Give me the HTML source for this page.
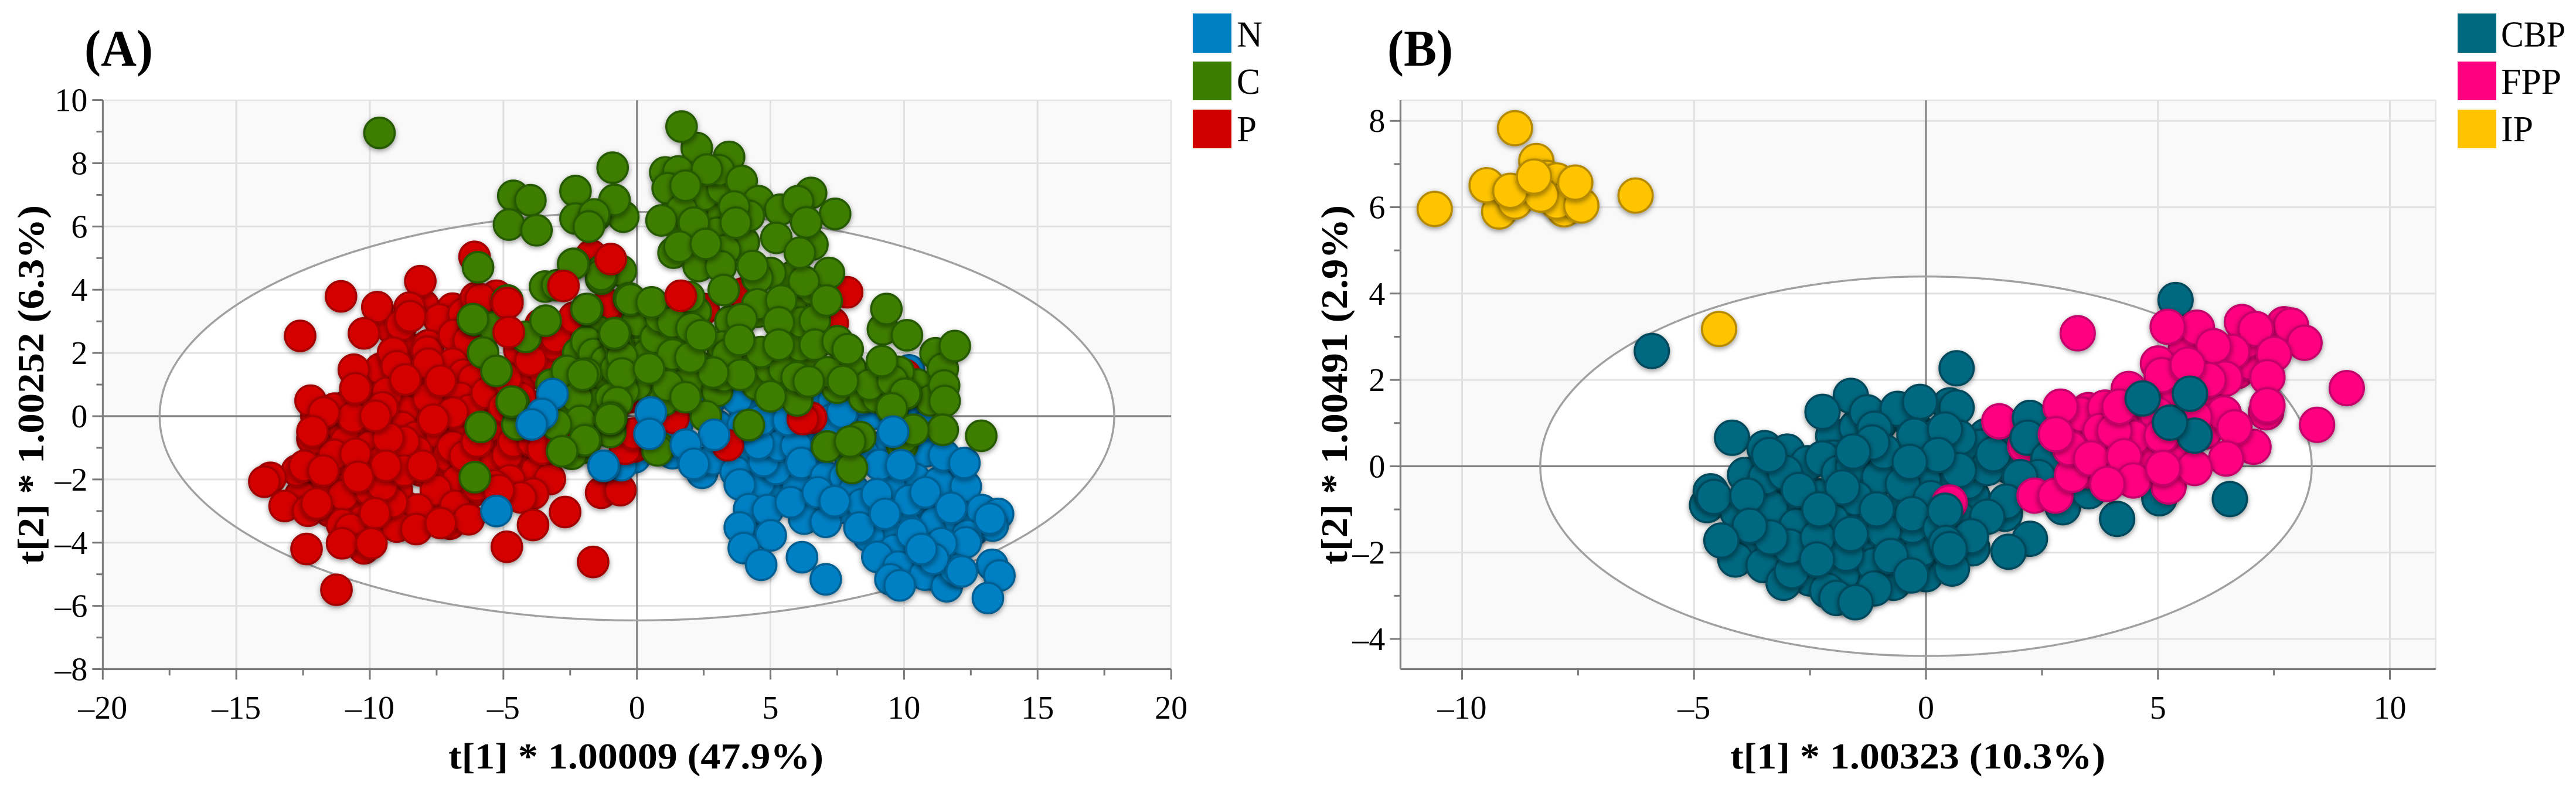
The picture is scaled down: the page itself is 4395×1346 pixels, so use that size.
<!DOCTYPE html>
<html lang="en">
<head>
<meta charset="utf-8">
<title>Score scatter plots (A) and (B)</title>
<style>
html,body{margin:0;padding:0;background:#fff;}
svg{display:block;}
text{font-family:"Liberation Serif",serif;fill:#000;}
</style>
</head>
<body>
<svg id="figure" xmlns="http://www.w3.org/2000/svg" width="4395" height="1346" viewBox="0 0 4395 1346">
  <defs>
    <filter id="marker-shadow" x="-40%" y="-40%" width="180%" height="190%">
      <feDropShadow dx="0" dy="3" stdDeviation="4.5" flood-color="#000" flood-opacity="0.42"/>
    </filter>
  </defs>
  <rect x="0" y="0" width="4395" height="1346" fill="#fff"/>
  <g id="panel-a"></g>
  <g id="panel-b"></g>

  <text x="144" y="112" font-size="88" font-weight="bold" textLength="117" lengthAdjust="spacingAndGlyphs">(A)</text>
  <text x="2367" y="112" font-size="88" font-weight="bold" textLength="112" lengthAdjust="spacingAndGlyphs">(B)</text>

  <text x="765" y="1311" font-size="62" font-weight="bold" textLength="640" lengthAdjust="spacingAndGlyphs">t[1] * 1.00009 (47.9%)</text>
  <text transform="translate(74 963) rotate(-90)" font-size="64" font-weight="bold" textLength="613" lengthAdjust="spacingAndGlyphs">t[2] * 1.00252 (6.3%)</text>
  <text x="2952" y="1311" font-size="62" font-weight="bold" textLength="640" lengthAdjust="spacingAndGlyphs">t[1] * 1.00323 (10.3%)</text>
  <text transform="translate(2298 963) rotate(-90)" font-size="64" font-weight="bold" textLength="613" lengthAdjust="spacingAndGlyphs">t[2] * 1.00491 (2.9%)</text>

  <g>
    <g>
      <rect x="2035" y="23" width="66" height="67" fill="#0080c4"/>
      <text x="2110" y="79.5" font-size="62" textLength="44" lengthAdjust="spacingAndGlyphs">N</text>
    </g>
    <g>
      <rect x="2035" y="105" width="66" height="66" fill="#3c7d00"/>
      <text x="2110" y="160" font-size="62" textLength="40" lengthAdjust="spacingAndGlyphs">C</text>
    </g>
    <g>
      <rect x="2035" y="187" width="66" height="66" fill="#d10000"/>
      <text x="2110" y="241" font-size="62" textLength="34" lengthAdjust="spacingAndGlyphs">P</text>
    </g>
  </g>
  <g>
    <g>
      <rect x="4193" y="23" width="66" height="67" fill="#006880"/>
      <text x="4267" y="79.5" font-size="62" textLength="110" lengthAdjust="spacingAndGlyphs">CBP</text>
    </g>
    <g>
      <rect x="4193" y="105" width="66" height="66" fill="#ff0080"/>
      <text x="4267" y="160" font-size="62" textLength="103" lengthAdjust="spacingAndGlyphs">FPP</text>
    </g>
    <g>
      <rect x="4193" y="187" width="66" height="66" fill="#ffc400"/>
      <text x="4267" y="241" font-size="62" textLength="55" lengthAdjust="spacingAndGlyphs">IP</text>
    </g>
  </g>
</svg>
<script>
// ---------- Panel A data ----------
const aXTicks = [-20,-15,-10,-5,0,5,10,15,20];
const aXMinor = [-17.5,-12.5,-7.5,-2.5,2.5,7.5,12.5,17.5];
const aYTicks = [-8,-6,-4,-2,0,2,4,6,8,10];
const aYMinor = [-7,-5,-3,-1,1,3,5,7,9];
const aEllipse = [17.87,6.46];

const pInner = [[-11.5,-0.5],[-10.9,0.3],[-10.0,-0.3],[-11.0,-1.6],[-10.2,-1.3],[-8.9,-1.1],[-9.0,0.9],[-10.2,1.0],[-9.6,1.5],[-8.2,0.9],[-7.0,0.9],[-8.4,2.1],[-7.2,2.7],[-6.0,1.9],[-5.0,0.6],[-5.2,-0.3],[-6.0,-0.9],[-7.5,-1.0],[-8.0,-0.2],[-9.2,-0.2],[-10.9,-2.3],[-11.7,-2.2],[-12.6,-2.5],[-11.5,-3.0],[-10.2,-2.7],[-9.4,-3.3],[-8.6,-2.9],[-7.6,-2.9],[-7.0,-3.4],[-6.2,-2.4],[-5.0,-1.7],[-4.4,-1.6],[-3.4,-0.4],[-3.2,-1.2],[-4.9,-0.9],[-3.9,0.3],[-2.6,0.2],[-2.0,0.9],[-3.0,1.0],[-1.8,-0.4],[-11.9,-1.0],[-12.0,0.0],[-8.6,0.1],[-7.0,-0.2],[-10.5,-3.0],[-4.4,2.1],[-3.6,2.9],[-2.6,2.2],[-1.4,2.6],[-8.0,3.5],[-6.9,3.4],[-9.2,2.8]];

const pBase = [[-6.08,5.04],[-11.08,3.79],[-8.11,4.27],[-12.61,2.54],[-9.72,3.45],[-8.51,3.43],[-10.22,2.62],[-8.81,2.89],[-7.4,3.06],[-6.49,3.24],[-6.03,3.74],[-5.26,3.81],[-5.85,3.7],[-9.13,2.01],[-7.81,2.24],[-7.85,2.04],[-6.85,2.57],[-6.3,2.39],[-10.6,1.47],[-8.99,1.58],[-6.9,1.66],[-6.49,1.31],[-6.12,1.16],[-7.81,1.66],[-12.22,0.49],[-11.31,0.24],[-9.81,0.51],[-8.72,0.2],[-7.53,0.43],[-5.62,0.2],[-3.98,1.35],[-3.48,1.43],[-3.16,2.27],[-3.03,2.51],[-2.35,3.12],[-1.71,5.08],[-0.84,3.2],[-1.07,3.51],[-12.15,-0.72],[-10.9,-0.8],[-9.99,-0.95],[-8.81,-0.34],[-8.26,-0.65],[-7.35,-0.57],[-6.53,-0.26],[-5.53,-0.34],[-11.35,-1.22],[-12.72,-1.72],[-13.72,-1.95],[-13.95,-2.07],[-9.31,-1.95],[-8.08,-1.72],[-7.26,-1.8],[-7.08,-1.26],[-8.26,-1.11],[-6.71,-2.03],[-5.53,-1.57],[-4.85,-1.22],[-3.76,-1.72],[-3.26,-1.99],[-4.76,-2.03],[-10.99,-2.49],[-13.19,-2.84],[-12.31,-2.99],[-7.53,-2.34],[-8.99,-2.34],[-9.99,-2.34],[-8.21,-2.95],[-10.26,-3.3],[-6.8,-2.84],[-6.3,-3.26],[-8.99,-3.49],[-8.26,-3.57],[-11.04,-3.42],[-10.72,-3.57],[-10.22,-4.18],[-11.04,-4.02],[-12.37,-4.2],[-5.35,-2.19],[-3.89,-2.45],[-4.35,-2.57],[-3.89,-3.44],[-2.69,-3.03],[-4.87,-4.13],[-1.64,-4.61],[-11.25,-5.49],[-1.34,-2.42],[-0.62,-2.34],[-6.9,-0.96],[-6.44,-1.26],[-5.99,-2.19],[-9.53,-1.42],[-12.45,-1.57],[-8.72,-0.8],[-5.99,-0.8],[-4.62,-0.8],[-3.89,-0.8],[-4.35,-0.19],[-3.53,-1.03],[-9.17,-2.72],[-9.53,-2.19],[-5.17,-2.34],[-7.81,0.58],[-6.62,0.58],[-6.26,0.2],[-6.9,0.12],[-5.62,0.74],[-9.35,0.74],[-9.53,0.28],[-10.63,-0.03],[-11.72,0.12],[-4.35,0.58],[-4.98,0.28],[-4.89,1.2],[-7.35,1.12],[-10.53,-1.19],[-8.72,-1.72],[-2.8,-0.8],[-12.15,-0.48],[-8.49,3.16],[-9.31,-0.69],[-10.54,0.88],[-8.67,1.16],[-9.79,0.01],[-7.62,-0.11],[-3.98,1.77],[-8.03,-1.57],[-9.4,-1.57],[-11.74,-1.72],[-10.44,-1.92],[-11.99,-2.76],[-9.81,-3.07],[-9.94,-4.02],[-7.35,-3.38]];

const nInner = [[4.0,-1.0],[5.0,-2.5],[6.5,-0.5],[7.0,-1.0],[8.0,-1.5],[9.0,-1.0],[9.5,-3.0],[10.0,-1.5],[11.0,-1.0],[11.0,-3.0],[12.0,-3.0],[6.8,-2.8],[7.6,-2.9],[8.7,-3.1],[10.5,-3.0],[11.5,-3.5],[10.0,-4.6],[11.0,-5.0],[10.0,0.0],[6.0,-2.0],[5.0,-0.3],[4.0,0.3],[2.0,0.2],[1.5,-0.3],[3.0,-0.3],[6.0,0.2],[9.0,0.3],[9.9,-2.6],[11.8,-2.2],[12.6,-3.6],[11.9,-4.4],[10.5,-3.9],[9.5,-4.0],[8.1,-0.6],[7.0,-0.1],[4.6,-2.1],[5.5,-1.3],[4.5,-3.3]];

const nBase = [[10.19,1.45],[0.07,0.8],[2.79,0.56],[2.44,-1.79],[2.84,-1.36],[3.7,-1.76],[3.85,-2.16],[4.2,-2.94],[4.9,-2.97],[3.85,-3.52],[5.01,-3.77],[4.0,-4.17],[4.65,-4.7],[6.18,-4.46],[7.07,-5.16],[6.26,-3.24],[7.07,-3.34],[6.01,-2.22],[5.21,-1.67],[4.75,-1.42],[5.31,-0.93],[4.55,-0.87],[5.96,-0.93],[6.16,-1.48],[7.07,-1.92],[7.78,-1.92],[8.13,-2.35],[8.43,-2.78],[10.8,-1.11],[10.4,-1.98],[11.3,-2.1],[9.49,-2.22],[11.5,-1.24],[12.31,-2.22],[11.15,-3.34],[12.06,-3.28],[12.91,-2.97],[13.52,-3.09],[13.32,-3.46],[10.04,-3.4],[9.34,-3.58],[8.68,-3.8],[8.33,-3.52],[12.36,-3.77],[12.31,-3.99],[9.64,-4.23],[9.0,-4.45],[10.6,-4.57],[9.79,-4.76],[10.78,-5.01],[9.49,-5.16],[9.84,-5.35],[11.6,-5.38],[11.91,-4.85],[13.3,-4.7],[13.57,-5.04],[13.14,-5.75],[8.78,0.06],[10.9,-0.25],[10.8,0.62],[9.59,0.93],[3.75,0.56],[5.71,0.37],[6.27,0.56],[4.65,-0.12],[5.46,0.93],[4.45,1.2],[7.37,0.5],[8.28,0.5],[3.95,-0.31],[5.66,-0.12],[7.27,-0.12],[8.48,-1.17],[9.09,-1.54],[8.98,-2.47],[10.2,-2.66],[5.76,-2.72],[6.77,-2.41],[9.29,-3.09],[11.4,-4.02],[11.1,-4.51],[10.3,-3.71],[-0.08,-1.3],[1.33,-1.17],[-0.59,-1.55],[-5.26,-3.0],[-1.3,0.97],[-1.03,-0.49],[-1.23,-1.57],[7.4,-2.69],[10.8,-2.41],[11.76,-2.9],[12.26,-1.48],[13.22,-3.24],[10.65,-4.2],[12.16,-4.91],[7.68,0.12]];

const pMid = [[6.52,-0.05],[6.21,-0.09],[10.04,1.3],[1.37,-0.05],[-0.11,-0.96],[-0.29,0.6],[3.4,-0.92],[7.33,2.94],[3.97,3.88],[7.87,3.92],[2.49,3.39],[-0.82,3.32],[-1.09,3.54],[0.12,2.86],[-0.62,0.5],[-0.44,-1.03],[-0.11,-0.55]];

const cInner = [[0.0,1.0],[1.0,1.3],[1.5,2.5],[2.5,1.5],[3.0,0.8],[3.5,3.0],[4.5,1.0],[5.0,1.5],[5.5,1.5],[6.5,1.7],[7.5,0.9],[8.5,0.6],[9.0,0.6],[10.5,1.0],[11.0,0.5],[0.0,3.0],[-1.5,1.0],[-0.5,0.8],[-1.5,2.7],[-2.5,0.8],[-1.0,-0.5],[-2.0,-1.0],[1.0,0.5],[2.2,3.3],[4.5,3.3],[5.8,3.4],[6.6,4.0],[2.5,6.6],[3.2,6.4],[1.8,5.8],[3.0,5.8],[4.0,5.5],[5.8,4.4],[1.5,6.9],[2.5,7.0],[3.2,7.2],[-3.2,1.0],[-3.0,0.2],[1.9,1.1],[4.0,1.9],[3.2,2.2],[0.0,2.0],[8.0,1.5],[9.8,1.4],[6.0,0.5],[-1.2,1.9],[-2.2,2.0]];

const cBase = [[1.06,7.71],[2.24,8.48],[3.45,8.2],[1.55,7.74],[3.07,7.78],[3.92,7.44],[1.15,7.21],[-0.51,6.31],[-1.54,6.34],[4.55,6.8],[6.52,7.06],[5.36,6.53],[1.68,6.53],[4.19,6.34],[0.92,6.19],[2.13,6.12],[6.57,5.43],[1.37,5.17],[3.3,5.25],[2.31,4.75],[3.14,4.74],[5.0,4.53],[4.51,4.38],[7.19,4.53],[6.25,4.26],[3.25,3.99],[4.51,3.54],[1.95,3.77],[-1.32,4.6],[-0.6,4.6],[-4.85,3.66],[-6.08,3.04],[-5.35,2.81],[-4.17,2.51],[-3.44,4.1],[-1.34,4.35],[-2.99,4.14],[-1.34,4.47],[-0.3,3.73],[-0.24,3.69],[-0.62,2.12],[-1.89,2.35],[-1.62,1.97],[-1.16,1.74],[-2.62,1.43],[-0.8,1.5],[-1.71,0.43],[-2.25,0.58],[-0.98,0.58],[-4.48,-0.26],[-2.12,-0.15],[-2.44,-1.19],[-1.9,1.35],[0.38,1.95],[-0.74,2.33],[-0.56,1.88],[-0.56,1.35],[0.7,2.48],[0.88,3.13],[1.33,2.97],[2.04,2.78],[1.33,1.95],[3.25,1.27],[3.39,1.95],[1.15,0.97],[4.64,2.03],[6.12,2.22],[6.16,2.97],[6.66,3.03],[6.66,2.26],[7.51,2.37],[5.98,1.23],[7.15,1.39],[8.72,1.0],[9.57,1.12],[9.21,2.75],[11.18,1.99],[11.45,1.5],[2.58,0.0],[0.83,-1.0],[9.57,0.25],[8.36,-0.66],[7.12,-0.96],[10.1,-0.47],[9.93,-0.92],[0.77,-1.08],[11.5,0.97],[-0.74,0.44],[-0.96,-0.05],[-1.9,-0.77]];

const cTop = [[1.67,9.16],[-0.91,7.86],[2.62,7.8],[1.82,7.29],[-0.84,6.84],[6.03,6.8],[7.42,6.4],[3.64,6.63],[3.7,6.12],[6.34,6.13],[5.22,5.64],[6.1,5.17],[1.59,5.36],[2.58,5.45],[4.33,4.75],[7.1,3.66],[5.4,3.66],[3.92,3.07],[5.31,2.97],[9.34,3.39],[10.11,2.56],[7.89,2.12],[5.31,2.26],[3.83,2.41],[11.9,2.22],[9.17,1.74],[3.88,1.31],[2.85,1.38],[2.0,1.86],[2.4,2.56],[0.45,1.51],[0.55,3.6],[-0.82,2.63],[-1.86,3.39],[1.82,0.6],[5.0,0.63],[6.43,1.1],[7.71,1.11],[10.08,0.7],[11.52,0.48],[11.45,-0.43],[4.19,-0.28],[8.05,-1.64],[7.98,-0.8],[-0.96,-0.05],[-9.64,8.96],[-4.63,6.97],[-3.99,6.83],[-4.79,6.06],[-3.76,5.88],[-2.3,7.12],[-2.3,6.25],[-1.6,6.38],[-1.8,6.0],[-2.37,4.82],[-5.95,4.71],[-2.39,4.81],[-3.42,3.02],[-6.14,3.07],[-5.76,2.01],[-5.26,1.43],[-4.62,0.43],[-4.69,0.46],[-5.85,-0.34],[-6.07,-1.93],[-1.89,3.39],[-0.84,2.62],[-2.03,1.31],[-3.03,-0.26],[-1.0,-0.09],[-1.95,-0.76],[-2.8,-1.11],[12.89,-0.62],[9.99,-0.68],[10.04,0.71],[9.54,0.25],[10.35,-0.43]];

const pTop = [[-4.85,3.58],[-4.8,2.66],[-2.75,4.12],[-0.98,4.97],[1.64,3.81]];

const nTop = [[0.52,0.12],[0.47,-0.56],[2.89,-0.59],[1.83,-0.9],[2.13,-1.51],[-3.16,0.7],[-3.55,0.07],[-3.94,-0.26],[-1.25,-1.57],[9.59,-0.49],[9.89,-1.55]];

// ---------- Panel B data ----------
const bXTicks = [-10,-5,0,5,10];
const bXMinor = [-7.5,-2.5,2.5,7.5];
const bYTicks = [-4,-2,0,2,4,6,8];
const bYMinor = [-3,-1,1,3,5,7];
const bEllipse = [8.315,4.395];

const cbpInner = [[-3.0,-0.5],[-2.3,-0.7],[-1.2,-0.5],[0.0,-0.8],[0.5,-0.2],[1.0,-0.7],[1.3,0.7],[-0.5,0.2],[-1.0,1.0],[-0.3,1.0],[-2.0,0.7],[-1.8,-1.1],[-2.7,-0.9],[-3.5,-1.0],[-3.2,-2.1],[-2.5,-2.6],[-1.8,-2.5],[-0.7,-2.7],[0.0,-2.5],[-0.5,-1.7],[0.3,-1.0],[1.0,-1.9],[1.7,-1.1],[2.5,0.5],[3.0,-0.3],[-1.3,-1.9],[-0.3,-0.4],[-2.0,0.2],[-1.9,-1.7],[-3.9,-0.2],[-2.6,-1.6],[-1.2,-1.3],[-2.9,0.0],[0.2,0.7],[0.9,0.1],[1.8,0.0],[-1.5,0.9],[-3.9,-1.9],[-0.2,-2.1]];

const cbpBase = [[-5.91,2.67],[-4.18,0.66],[0.66,2.27],[5.38,3.85],[-1.62,1.63],[-2.23,1.26],[-1.27,1.25],[-0.61,1.33],[0.51,1.41],[0.66,1.36],[-0.13,1.49],[-3.48,0.42],[-2.99,0.34],[-1.11,0.87],[-0.25,0.71],[1.17,0.45],[1.73,0.45],[-2.55,0.07],[-2.23,0.18],[-1.88,-0.15],[-1.57,0.0],[-1.01,-0.25],[-0.05,-0.31],[0.9,-0.36],[-4.72,-0.9],[-4.64,-0.58],[-3.35,-0.95],[-0.55,-1.0],[0.71,-1.22],[-2.79,-1.38],[-4.11,-2.16],[-3.5,-2.29],[-3.07,-2.7],[-2.89,-2.43],[-2.94,-1.86],[-1.11,-2.29],[-0.1,-1.92],[-2.13,-2.88],[-1.93,-3.05],[-1.11,-2.83],[-1.72,-2.03],[-0.3,-1.38],[-3.45,-0.25],[-3.04,-0.15],[-0.91,0.34],[0.71,0.66],[1.32,-0.04],[0.71,-0.09],[-0.5,-0.41],[0.105,-0.74],[-1.52,-0.74],[-2.03,-1.27],[-0.91,-1.49],[-2.33,-1.65],[-3.35,-1.65],[-0.3,-1.11],[0.31,-1.43],[-4.06,-1.06],[-1.16,0.55],[0.41,0.85],[-1.57,0.34],[0.26,0.26],[-0.35,0.1],[1.45,0.28],[-3.38,0.26],[-2.74,-0.55],[-1.8,-0.49],[-4.57,-0.71],[-3.85,-0.68],[-2.3,-1.0],[-1.06,-1.0],[-3.8,-1.38],[-1.62,-1.57],[-4.41,-1.72],[-2.35,-2.16],[-0.76,-2.08],[-0.32,-2.53],[0.56,-2.37],[-1.52,-3.15]];

const fppLow = [[1.58,1.04],[2.14,0.47],[0.51,-0.84]];

const cbpMid = [[2.24,1.12],[2.19,0.66],[2.64,0.18],[2.42,-0.25],[2.03,-0.25],[1.73,-0.82],[1.32,-1.17],[0.97,-1.62],[0.41,-1.03],[0.43,-1.78],[2.24,-1.68],[1.78,-1.98],[0.51,-1.92],[2.95,-0.95],[3.51,-0.58],[4.12,-1.22],[5.03,-0.74],[6.55,-0.76]];

const fppInner = [[3.5,0.7],[4.5,1.2],[3.8,0.3],[5.5,0.4],[6.0,1.5],[6.7,2.2],[7.0,2.4],[6.0,2.5],[5.4,1.8],[4.6,0.1],[6.0,0.8],[5.3,0.9],[3.5,1.3],[3.2,0.9],[6.9,2.9],[5.6,2.7],[4.2,1.0],[3.5,-0.1]];

const fppValues = [[3.27,3.08],[5.84,3.21],[6.81,3.34],[7.72,3.29],[7.87,3.26],[5.21,3.23],[7.11,3.18],[6.6,2.65],[6.2,2.78],[8.16,2.86],[7.5,2.6],[5.0,2.38],[5.08,2.11],[6.45,2.03],[6.09,2.0],[5.64,2.35],[7.33,1.25],[7.36,2.06],[7.36,1.41],[9.07,1.81],[8.43,0.96],[6.42,1.22],[7.06,0.45],[6.65,0.9],[6.47,0.18],[4.37,1.79],[3.35,1.2],[3.86,1.36],[4.98,1.2],[5.79,1.14],[3.76,0.82],[4.47,0.66],[4.06,0.82],[5.08,0.71],[2.9,1.38],[4.17,1.38],[2.34,-0.68],[2.79,-0.68],[3.15,-0.2],[3.1,0.42],[2.8,0.74],[3.56,0.18],[4.27,0.23],[5.23,-0.47],[4.47,-0.33],[5.79,-0.04],[5.11,-0.04],[3.91,-0.41]];

const cbpTop = [[4.67,1.57],[5.79,0.71],[5.26,1.01],[5.69,1.68]];

const ipValues = [[-8.86,7.83],[-8.4,7.07],[-10.59,5.96],[-9.2,5.9],[-7.8,5.95],[-8.18,6.68],[-7.96,6.62],[-7.96,6.13],[-9.47,6.51],[-8.86,6.13],[-7.43,6.04],[-8.3,6.29],[-6.26,6.27],[-4.46,3.18],[-8.96,6.38],[-8.45,6.71],[-7.56,6.57]];

// ---------- Axis functions ----------
const NS = 'http://www.w3.org/2000/svg';
const aX = v => 1086.7 + 45.57 * v;
const aY = v => 710 - 53.94 * v;
const bX = v => 3286 + 79.15 * v;
const bY = v => 795.4 - 73.65 * v;

function make(parent, tag, attrs) {
  const el = document.createElementNS(NS, tag);
  Object.keys(attrs).forEach(k => el.setAttribute(k, attrs[k]));
  parent.appendChild(el);
  return el;
}
function fmt(v) { return String(v).replace('-', '\u2013'); }

function drawFrame(host, X, Y, box, xTicks, xMinor, yTicks, yMinor, ell) {
  const plotBg = make(host, 'rect', {x: box.l, y: box.t, width: box.r - box.l, height: box.b - box.t, fill: '#f9f9f9'});
  
  

  const fillEllipse = make(host, 'ellipse', {cx: X(0), cy: Y(0), rx: X(ell[0]) - X(0), ry: Y(0) - Y(ell[1]), fill: '#fff'});
  
  

  xTicks.forEach(v => {
    const inRange = X(v) > box.l + 2;
    if (inRange && v !== 0) {
      const g = make(host, 'line', {x1: X(v), x2: X(v), y1: box.t, y2: box.b, stroke: '#dfdfdf', 'stroke-width': 3});
      
      
    }
  });
  yTicks.forEach(v => {
    if (v !== 0 && Y(v) > box.t + 2 && Y(v) < box.b - 2) {
      const g = make(host, 'line', {x1: box.l, x2: box.r, y1: Y(v), y2: Y(v), stroke: '#e2e2e2', 'stroke-width': 3});
      
      
    }
  });
  const topEdge = make(host, 'line', {x1: box.l, x2: box.r, y1: box.t, y2: box.t, stroke: '#e6e6e6', 'stroke-width': 2.5});
  
  
  const rightEdge = make(host, 'line', {x1: box.r, x2: box.r, y1: box.t, y2: box.b, stroke: '#e6e6e6', 'stroke-width': 2.5});
  
  

  const zeroX = make(host, 'line', {x1: X(0), x2: X(0), y1: box.t, y2: box.b, stroke: '#808080', 'stroke-width': 3});
  
  
  const zeroY = make(host, 'line', {x1: box.l, x2: box.r, y1: Y(0), y2: Y(0), stroke: '#808080', 'stroke-width': 3.2});
  
  

  const strokeEllipse = make(host, 'ellipse', {cx: X(0), cy: Y(0), rx: X(ell[0]) - X(0), ry: Y(0) - Y(ell[1]), fill: 'none', stroke: '#a0a0a0', 'stroke-width': 3.4});
  
  

  const axisX = make(host, 'line', {x1: box.l, x2: box.r, y1: box.b, y2: box.b, stroke: '#787878', 'stroke-width': 3.4});
  
  
  const axisY = make(host, 'line', {x1: box.l, x2: box.l, y1: box.t, y2: box.b, stroke: '#808080', 'stroke-width': 3.2});
  
  

  xTicks.forEach(v => {
    const t = make(host, 'line', {x1: X(v), x2: X(v), y1: box.b, y2: box.b + 18, stroke: '#787878', 'stroke-width': 3});
    
    
    const lab = make(host, 'text', {x: X(v), y: 1226, 'font-size': 56, 'text-anchor': 'middle'});
    
    
    lab.textContent = fmt(v);
  });
  xMinor.forEach(v => {
    const t = make(host, 'line', {x1: X(v), x2: X(v), y1: box.b, y2: box.b + 11, stroke: '#787878', 'stroke-width': 3});
    
    
  });
  yTicks.forEach(v => {
    const t = make(host, 'line', {x1: box.l - 18, x2: box.l, y1: Y(v), y2: Y(v), stroke: '#787878', 'stroke-width': 3});
    
    
    const lab = make(host, 'text', {x: box.l - 26, y: Y(v) + 19, 'font-size': 56, 'text-anchor': 'end'});
    
    
    lab.textContent = fmt(v);
  });
  yMinor.forEach(v => {
    const t = make(host, 'line', {x1: box.l - 11, x2: box.l, y1: Y(v), y2: Y(v), stroke: '#787878', 'stroke-width': 3});
    
    
  });
}

function drawPoints(host, X, Y, points, r, fill, stroke, name) {
  points.forEach(p => {
    const c = make(host, 'circle', {cx: X(p[0]), cy: Y(p[1]), r: r, fill: fill, stroke: stroke, 'stroke-width': 3.6, filter: 'url(#marker-shadow)'});
    
    
  });
}

// ---------- Render ----------
const panelA = document.getElementById('panel-a');
drawFrame(panelA, aX, aY, {l: 175.4, r: 1998, t: 171, b: 1141.4}, aXTicks, aXMinor, aYTicks, aYMinor, aEllipse);
const R_A = 26;
drawPoints(panelA, aX, aY, pInner, R_A, '#d40000', '#a30000', 'point-p');
drawPoints(panelA, aX, aY, pBase, R_A, '#d40000', '#a30000', 'point-p');
drawPoints(panelA, aX, aY, nInner, R_A, '#0080c4', '#005f92', 'point-n');
drawPoints(panelA, aX, aY, nBase, R_A, '#0080c4', '#005f92', 'point-n');
drawPoints(panelA, aX, aY, pMid, R_A, '#d40000', '#a30000', 'point-p');
drawPoints(panelA, aX, aY, cInner, R_A, '#3c7d00', '#265a00', 'point-c');
drawPoints(panelA, aX, aY, cBase, R_A, '#3c7d00', '#265a00', 'point-c');
drawPoints(panelA, aX, aY, cTop, R_A, '#3c7d00', '#265a00', 'point-c');
drawPoints(panelA, aX, aY, pTop, R_A, '#d40000', '#a30000', 'point-p');
drawPoints(panelA, aX, aY, nTop, R_A, '#0080c4', '#005f92', 'point-n');

const panelB = document.getElementById('panel-b');
drawFrame(panelB, bX, bY, {l: 2389.4, r: 4155.7, t: 171, b: 1141.4}, bXTicks, bXMinor, bYTicks, bYMinor, bEllipse);
const R_B = 29.2;
drawPoints(panelB, bX, bY, cbpInner, R_B, '#006880', '#00495c', 'point-cbp');
drawPoints(panelB, bX, bY, cbpBase, R_B, '#006880', '#00495c', 'point-cbp');
drawPoints(panelB, bX, bY, fppLow, R_B, '#ff0080', '#c4006a', 'point-fpp');
drawPoints(panelB, bX, bY, cbpMid, R_B, '#006880', '#00495c', 'point-cbp');
drawPoints(panelB, bX, bY, fppInner, R_B, '#ff0080', '#c4006a', 'point-fpp');
drawPoints(panelB, bX, bY, fppValues, R_B, '#ff0080', '#c4006a', 'point-fpp');
drawPoints(panelB, bX, bY, cbpTop, R_B, '#006880', '#00495c', 'point-cbp');
drawPoints(panelB, bX, bY, ipValues, R_B, '#ffc400', '#b58a00', 'point-ip');
</script>
</body>
</html>
